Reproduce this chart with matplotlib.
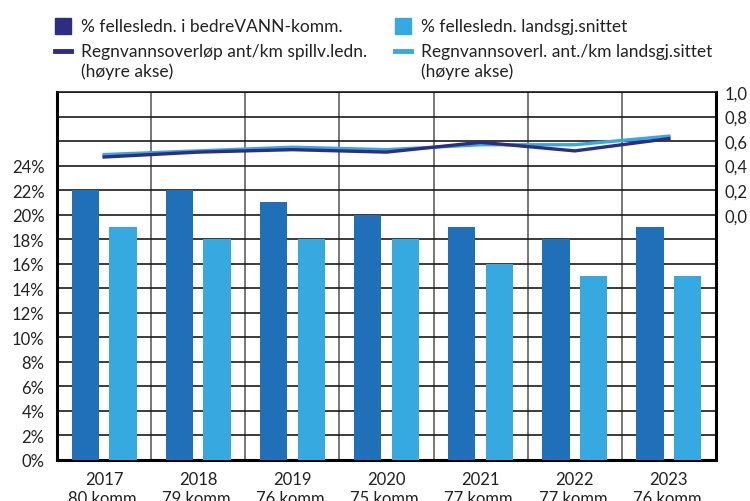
import matplotlib
matplotlib.use("Agg")
import matplotlib.pyplot as plt
import numpy as np
from matplotlib.patches import Rectangle
from matplotlib.lines import Line2D

years = ["2017", "2018", "2019", "2020", "2021", "2022", "2023"]
n_komm = [80, 79, 76, 75, 77, 77, 76]
share_bedrevann = [22, 22, 21, 20, 19, 18, 19]
share_national = [19, 18, 18, 18, 16, 15, 15]
overflow_bedrevann = [0.47, 0.51, 0.53, 0.51, 0.59, 0.52, 0.62]
overflow_national = [0.49, 0.52, 0.55, 0.53, 0.57, 0.57, 0.64]

NAVY = "#2e2d83"
BLUE = "#1f70b8"
LIGHT = "#36a9e1"
TXT = "#222222"

plt.rcParams["font.family"] = ["Lato", "DejaVu Sans"]
plt.rcParams["font.size"] = 12

fig = plt.figure(figsize=(7.5, 5.02), dpi=100)
ax = fig.add_axes([57 / 750, 1 - 461 / 502, 659 / 750, 368 / 502])

x = np.arange(len(years))
w = 0.29
ax.bar(x - 0.2, share_bedrevann, w, color=BLUE, zorder=3)
ax.bar(x + 0.2, share_national, w, color=LIGHT, zorder=3)

ax.set_xlim(-0.5, len(years) - 0.5)
ax.set_ylim(0, 30)
ax.set_yticks(np.arange(0, 31, 2))
ax.set_yticklabels([f"{v}%" if v <= 24 else "" for v in range(0, 31, 2)])
ax.set_xticks(x)
ax.set_xticklabels([f"{y}\n{k} komm." for y, k in zip(years, n_komm)], linespacing=1.2)
ax.set_xticks(np.arange(-0.5, len(years)), minor=True)
ax.tick_params(axis="both", which="both", length=0)
ax.tick_params(axis="y", pad=9, colors=TXT)
ax.tick_params(axis="x", pad=8, colors=TXT)
ax.grid(axis="y", which="major", color="#1a1a1a", linewidth=1.2, zorder=0)
ax.grid(axis="x", which="minor", color="#777777", linewidth=1.4, zorder=0)
ax.set_axisbelow(True)

for s in ["left", "bottom", "right"]:
    ax.spines[s].set_linewidth(2.2)
    ax.spines[s].set_color("black")
ax.spines["top"].set_linewidth(1.2)
ax.spines["top"].set_color("#1a1a1a")

ax2 = ax.twinx()
ax2.plot(x, overflow_national, color=LIGHT, linewidth=2.4, zorder=4)
ax2.plot(x, overflow_bedrevann, color=NAVY, linewidth=2.4, zorder=5)
ax2.set_ylim(-2, 1)
ticks_r = np.round(np.arange(0, 1.01, 0.2), 1)
ax2.set_yticks(ticks_r)
ax2.set_yticklabels([f"{t:.1f}".replace(".", ",") for t in ticks_r])
ax2.tick_params(axis="y", length=0, pad=6, colors=TXT)
for s in ax2.spines.values():
    s.set_visible(False)


# legend drawn by hand at the top, positions in pixels
def fx(px):
    return px / 750


def fy(py):
    return 1 - py / 502


legend_items = [
    (55, 27, "box", NAVY, "% fellesledn. i bedreVANN-komm."),
    (395, 27, "box", LIGHT, "% fellesledn. landsgj.snittet"),
    (55, 52, "line", NAVY, "Regnvannsoverløp ant/km spillv.ledn.\n(høyre akse)"),
    (395, 52, "line", LIGHT, "Regnvannsoverl. ant./km landsgj.sittet\n(høyre akse)"),
]
for px, py, kind, col, label in legend_items:
    if kind == "box":
        fig.patches.append(Rectangle((fx(px), fy(py + 8)), fx(16), 16 / 502,
                                     transform=fig.transFigure, color=col))
    else:
        fig.lines.append(Line2D([fx(px), fx(px + 16)], [fy(py), fy(py)],
                                transform=fig.transFigure, color=col, linewidth=3.5))
    lines = label.split("\n")
    for i, ln in enumerate(lines):
        fig.text(fx(px + 26), fy(py + 20 * i), ln, va="center", ha="left",
                 color=TXT, fontsize=12.5)

fig.savefig("out.png", dpi=100)
